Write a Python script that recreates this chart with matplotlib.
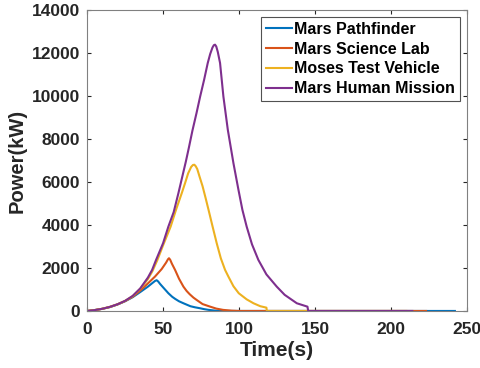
import matplotlib
matplotlib.use('agg')
import matplotlib.pyplot as plt  # noqa

plt.rcParams['font.family'] = ['Liberation Sans', 'DejaVu Sans']
plt.rcParams['font.weight'] = 'bold'

# Values (time in s, power in kW)
t_path = [0, 5, 10, 15, 20, 25, 30, 35, 40, 43, 44.8, 45.8, 46.8, 48, 50,
          53.5, 56, 58, 60.5, 63.4, 66, 68, 71, 74.4, 77, 80, 85, 90, 242]
p_path = [0, 40, 100, 180, 300, 450, 640, 880, 1130, 1300, 1400, 1430, 1370,
          1260, 1100, 824, 660, 560, 450, 358, 280, 220, 170, 125, 85, 50, 10,
          0, 0]

t_msl = [0, 5, 10, 15, 20, 25, 30, 35, 40, 44.7, 49.1, 52, 53.2, 53.9, 54.7,
         55.8, 57.9, 60.5, 63.4, 65.5, 67.5, 70, 72.1, 76, 81, 85, 89.5, 95,
         100, 223]
p_msl = [0, 40, 100, 185, 305, 460, 660, 950, 1280, 1600, 1950, 2250, 2400,
         2453, 2380, 2200, 1909, 1500, 1131, 930, 780, 620, 512, 320, 200, 110,
         50, 15, 0, 0]

t_moses = [0, 5, 10, 15, 20, 25, 30, 35, 40, 43, 46.3, 50, 55, 58.5, 62.3,
           64.5, 66.5, 68.5, 69.7, 70.6, 71.5, 72.5, 74, 76, 78, 80, 82.5,
           85.3, 88, 90.8, 93, 96.3, 99.8, 105, 109.5, 114, 118, 118.3, 210]
p_moses = [0, 40, 100, 190, 310, 465, 690, 1030, 1480, 1850, 2374, 3050, 3925,
           4700, 5479, 5950, 6400, 6700, 6790, 6800, 6730, 6600, 6250, 5800,
           5250, 4680, 3950, 3150, 2450, 1909, 1597, 1150, 824, 540, 358, 220,
           154, 0, 0]

t_human = [0, 5, 10, 15, 20, 25, 30, 35, 40, 42.8, 45.4, 50, 53.5, 57, 60.1,
           62.5, 65, 67, 69.3, 72, 74.4, 77, 79.4, 81, 82.5, 83.4, 84.2, 85,
           86, 87.5, 89.7, 92.6, 96.3, 99.6, 102.2, 105, 108.5, 112.7, 118,
           124.8, 130, 138, 145, 145.5, 214]
p_human = [0, 40, 100, 190, 310, 470, 700, 1050, 1550, 1909, 2374, 3150, 3925,
           4600, 5479, 6200, 6950, 7600, 8380, 9200, 9972, 10750, 11532,
           11950, 12250, 12360, 12385, 12300, 12050, 11532, 9972, 8427, 6875,
           5635, 4703, 3925, 3100, 2374, 1700, 1131, 750, 358, 200, 0, 0]

labels = ['Mars Pathfinder', 'Mars Science Lab', 'Moses Test Vehicle',
          'Mars Human Mission']
colors = ['#0072BD', '#D95319', '#EDB120', '#7E2F8E']

fig = plt.figure(figsize=(4.81, 3.68), dpi=100)
ax = fig.add_axes([0.181, 0.155, 0.790, 0.818])

series = [(t_path, p_path), (t_msl, p_msl), (t_moses, p_moses),
          (t_human, p_human)]
for (t, p), lab, c in zip(series, labels, colors):
    ax.plot(t, p, color=c, lw=1.5, label=lab)

ax.set_xlim(0, 250)
ax.set_ylim(0, 14000)
ax.set_xticks(range(0, 251, 50))
ax.set_yticks(range(0, 14001, 2000))
ax.tick_params(direction='in', top=True, right=True, labelsize=12.5,
               colors='#262626', length=3, width=0.8)
ax.tick_params(axis='x', pad=8)
ax.tick_params(axis='y', pad=5)
for lbl in ax.get_xticklabels() + ax.get_yticklabels():
    lbl.set_fontweight('bold')
for sp in ax.spines.values():
    sp.set_color('#808080')
    sp.set_linewidth(0.8)

ax.set_xlabel('Time(s)', fontsize=15, fontweight='bold', color='#262626',
              labelpad=3)
ax.set_ylabel('Power(kW)', fontsize=14.5, fontweight='bold', color='#262626',
              labelpad=4)

leg = ax.legend(loc='upper right', fontsize=11.5, frameon=True,
                fancybox=False, edgecolor='#262626', handlelength=1.6,
                handletextpad=0.15, labelspacing=0.3, borderpad=0.3,
                borderaxespad=0.45)
leg.get_frame().set_linewidth(0.8)
for txt in leg.get_texts():
    txt.set_fontweight('bold')

fig.savefig('out.png', dpi=100)
